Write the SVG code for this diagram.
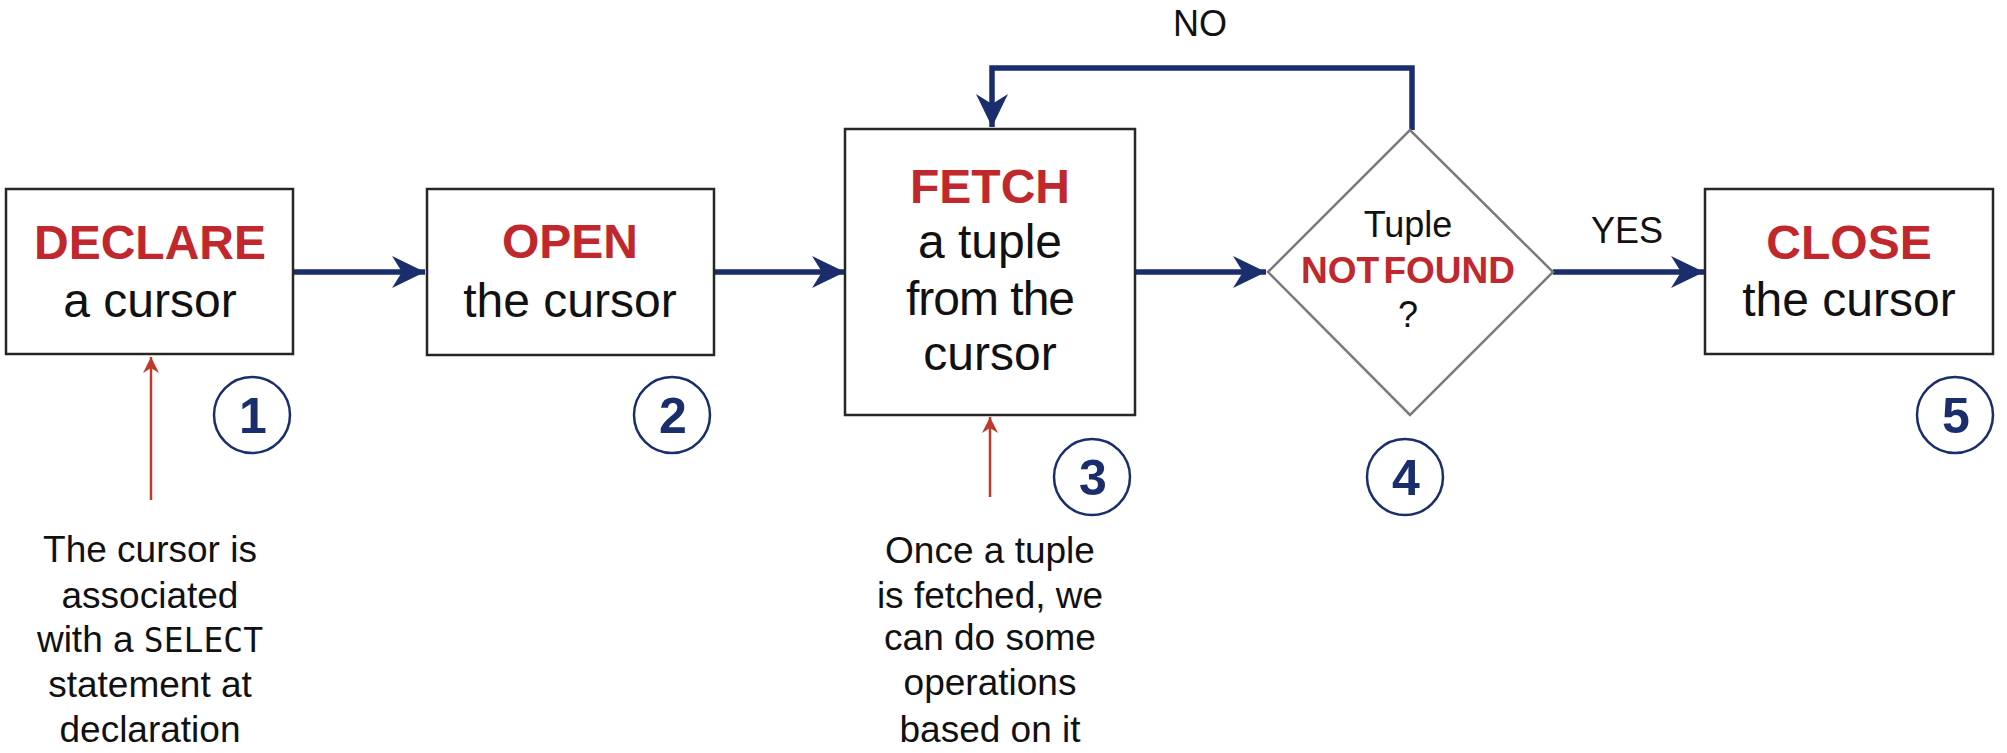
<svg xmlns="http://www.w3.org/2000/svg" width="2007" height="753" viewBox="0 0 2007 753">
<style>
  .box { fill: #ffffff; stroke: #262626; stroke-width: 2.5; }
  .dia { fill: #ffffff; stroke: #7a7a7a; stroke-width: 2.5; }
  .kw { font-family: "Liberation Sans", Arial, sans-serif; font-weight: bold; font-size: 48px; fill: #c0282d; text-anchor: middle; }
  .lb { font-family: "Liberation Sans", Arial, sans-serif; font-size: 48px; fill: #111111; text-anchor: middle; }
  .note { font-family: "Liberation Sans", Arial, sans-serif; font-size: 37px; fill: #111111; text-anchor: middle; }
  .mono { font-family: "DejaVu Sans Mono", "Liberation Mono", monospace; font-size: 33px; }
  .sm { font-family: "Liberation Sans", Arial, sans-serif; font-size: 36px; fill: #111111; text-anchor: middle; }
  .smkw { font-family: "Liberation Sans", Arial, sans-serif; font-weight: bold; font-size: 37px; fill: #c0282d; text-anchor: middle; }
  .num { fill: #ffffff; stroke: #1a2e6e; stroke-width: 2.5; }
  .numt { font-family: "Liberation Sans", Arial, sans-serif; font-weight: bold; font-size: 50px; fill: #1a2e6e; text-anchor: middle; }
  .flow { fill: none; stroke: #1a2e6e; stroke-width: 5.5; marker-end: url(#nav); }
  .ann { fill: none; stroke: #c0392b; stroke-width: 2.5; marker-end: url(#red); }
</style>
<defs>
  <marker id="nav" viewBox="-36 -18 38 36" refX="0" refY="0" markerWidth="38" markerHeight="36" orient="auto" markerUnits="userSpaceOnUse">
    <path d="M0,0 L-33,-16 L-23,0 L-33,16 Z" fill="#1a2e6e"/>
  </marker>
  <marker id="red" viewBox="-18 -10 20 20" refX="0" refY="0" markerWidth="20" markerHeight="20" orient="auto" markerUnits="userSpaceOnUse">
    <path d="M0,0 L-16,-8 L-11,0 L-16,8 Z" fill="#c0392b"/>
  </marker>
</defs>

<g id="connectors">
  <line class="flow" x1="293" y1="272" x2="425" y2="272"/>
  <line class="flow" x1="714" y1="272" x2="845" y2="272"/>
  <line class="flow" x1="1135" y1="272" x2="1266" y2="272"/>
  <line class="flow" x1="1553" y1="272" x2="1704" y2="272"/>
  <polyline class="flow" points="1412,130 1412,68 992,68 992,127"/>
  <line class="ann" x1="151" y1="500" x2="151" y2="357"/>
  <line class="ann" x1="990" y1="497" x2="990" y2="417"/>
</g>

<g id="label-no"><text class="sm" x="1200" y="36">NO</text></g>
<g id="label-yes"><text class="sm" x="1627" y="243">YES</text></g>

<g id="declare">
  <rect class="box" x="6" y="189" width="287" height="165"/>
  <text class="kw" x="150" y="259">DECLARE</text>
  <text class="lb" x="150" y="317">a cursor</text>
</g>

<g id="open">
  <rect class="box" x="427" y="189" width="287" height="166"/>
  <text class="kw" x="570" y="258">OPEN</text>
  <text class="lb" x="570" y="317">the cursor</text>
</g>

<g id="fetch">
  <rect class="box" x="845" y="129" width="290" height="286"/>
  <text class="kw" x="990" y="203">FETCH</text>
  <text class="lb" x="990" y="258">a tuple</text>
  <text class="lb" x="990" y="315" letter-spacing="-1">from the</text>
  <text class="lb" x="990" y="370">cursor</text>
</g>

<g id="decision">
  <polygon class="dia" points="1268,272 1410,130 1553,272 1410,415"/>
  <text class="sm" x="1408" y="237">Tuple</text>
  <text class="smkw" x="1408" y="283" word-spacing="-6">NOT FOUND</text>
  <text class="sm" x="1408" y="327">?</text>
</g>

<g id="close">
  <rect class="box" x="1705" y="189" width="288" height="165"/>
  <text class="kw" x="1849" y="259">CLOSE</text>
  <text class="lb" x="1849" y="316">the cursor</text>
</g>

<g id="step1"><circle class="num" cx="252" cy="415" r="38"/><text class="numt" x="253" y="433">1</text></g>
<g id="step2"><circle class="num" cx="672" cy="415" r="38"/><text class="numt" x="673" y="433">2</text></g>
<g id="step3"><circle class="num" cx="1092" cy="477" r="38"/><text class="numt" x="1093" y="495">3</text></g>
<g id="step4"><circle class="num" cx="1405" cy="477" r="38"/><text class="numt" x="1406" y="495">4</text></g>
<g id="step5"><circle class="num" cx="1955" cy="415" r="38"/><text class="numt" x="1956" y="433">5</text></g>

<g id="note-declare">
  <text class="note" x="150" y="562">The cursor is</text>
  <text class="note" x="150" y="608">associated</text>
  <text class="note" x="150" y="652">with a <tspan class="mono">SELECT</tspan></text>
  <text class="note" x="150" y="697">statement at</text>
  <text class="note" x="150" y="742">declaration</text>
</g>

<g id="note-fetch">
  <text class="note" x="990" y="563">Once a tuple</text>
  <text class="note" x="990" y="608">is fetched, we</text>
  <text class="note" x="990" y="650">can do some</text>
  <text class="note" x="990" y="695">operations</text>
  <text class="note" x="990" y="742">based on it</text>
</g>
</svg>
